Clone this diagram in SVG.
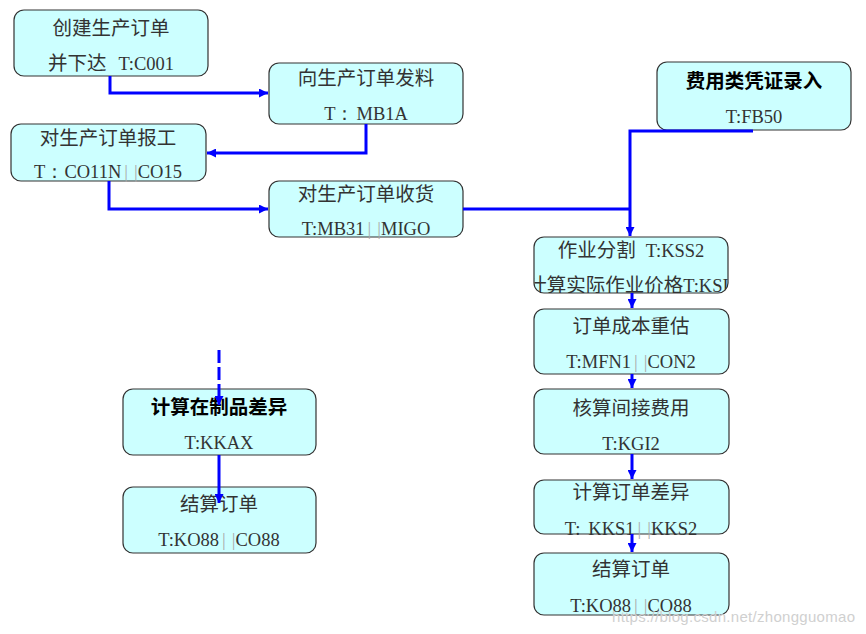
<svg xmlns="http://www.w3.org/2000/svg" width="866" height="634" viewBox="0 0 866 634">
<style>
.box{fill:#ccffff;stroke:#333;stroke-width:1.2}
.t{font-family:"Noto Sans CJK SC","Liberation Serif",sans-serif;font-size:19.5px;fill:#333;text-anchor:middle}
.b{font-weight:bold;fill:#000}
.m{font-family:"Liberation Serif",serif;font-size:18.5px}
.g{fill:#aaa}
.c{fill:none;stroke:#0000ff;stroke-width:3}
.wm{font-family:"Liberation Sans",sans-serif;font-size:15px;fill:#d0d0d0}
</style>
<defs>
<marker id="ar" viewBox="0 0 10 10" refX="10" refY="5" markerWidth="10" markerHeight="9" markerUnits="userSpaceOnUse" orient="auto">
<path d="M0,0 L10,5 L0,10 z" fill="#0000ff"/>
</marker>
<clipPath id="clip6"><rect x="534" y="237" width="194" height="56" rx="10"/></clipPath>
</defs>
<g id="n1"><rect class="box" x="14" y="10" width="194" height="66" rx="10"/>
<text class="t" x="111" y="35">创建生产订单</text>
<text class="t" x="111" y="70">并下达<tspan class="m" dx="12">T:C001</tspan></text></g>
<g id="n2"><rect class="box" x="269" y="63" width="194" height="61" rx="10"/>
<text class="t" x="366" y="85">向生产订单发料</text>
<text class="t" x="366" y="120"><tspan class="m">T：</tspan><tspan class="m" dx="2">MB1A</tspan></text></g>
<g id="n3"><rect class="box" x="11" y="124" width="195" height="57" rx="10"/>
<text class="t" x="108" y="145">对生产订单报工</text>
<text class="t" x="108" y="178"><tspan class="m">T：</tspan><tspan class="m">CO11N</tspan><tspan class="m g" dx="3">|</tspan><tspan class="m g" dx="6">|</tspan><tspan class="m">CO15</tspan></text></g>
<g id="n4"><rect class="box" x="269" y="181" width="194" height="56" rx="10"/>
<text class="t" x="366" y="201">对生产订单收货</text>
<text class="t" x="366" y="235"><tspan class="m">T:MB31</tspan><tspan class="m g" dx="3">|</tspan><tspan class="m g" dx="6">|</tspan><tspan class="m">MIGO</tspan></text></g>
<g id="n5"><rect class="box" x="657" y="62" width="194" height="68" rx="10"/>
<text class="t b" x="754" y="88">费用类凭证录入</text>
<text class="t" x="754" y="123"><tspan class="m">T:FB50</tspan></text></g>
<g id="n6"><rect class="box" x="534" y="237" width="194" height="56" rx="10"/>
<text class="t" x="631" y="257">作业分割<tspan class="m" dx="10">T:KSS2</tspan></text>
<g clip-path="url(#clip6)"><text class="t" x="631" y="292">计算实际作业价格<tspan class="m">T:KSII</tspan></text></g></g>
<g id="n7"><rect class="box" x="534" y="309" width="195" height="65" rx="10"/>
<text class="t" x="631" y="333">订单成本重估</text>
<text class="t" x="631" y="368"><tspan class="m">T:MFN1</tspan><tspan class="m g" dx="3">|</tspan><tspan class="m g" dx="6">|</tspan><tspan class="m">CON2</tspan></text></g>
<g id="n8"><rect class="box" x="534" y="389" width="195" height="65" rx="10"/>
<text class="t" x="631" y="415">核算间接费用</text>
<text class="t" x="631" y="450"><tspan class="m">T:KGI2</tspan></text></g>
<g id="n9"><rect class="box" x="534" y="480" width="195" height="54" rx="10"/>
<text class="t" x="631" y="499">计算订单差异</text>
<text class="t" x="631" y="535"><tspan class="m">T:</tspan><tspan class="m" dx="8">KKS1</tspan><tspan class="m g" dx="3">|</tspan><tspan class="m g" dx="6">|</tspan><tspan class="m">KKS2</tspan></text></g>
<g id="n10"><rect class="box" x="534" y="553" width="195" height="62" rx="10"/>
<text class="t" x="631" y="576">结算订单</text>
<text class="t" x="631" y="612"><tspan class="m">T:KO88</tspan><tspan class="m g" dx="3">|</tspan><tspan class="m g" dx="6">|</tspan><tspan class="m">CO88</tspan></text></g>
<g id="n11"><rect class="box" x="123" y="389" width="193" height="66" rx="10"/>
<text class="t b" x="219" y="414">计算在制品差异</text>
<text class="t" x="219" y="449"><tspan class="m">T:KKAX</tspan></text></g>
<g id="n12"><rect class="box" x="123" y="487" width="193" height="66" rx="10"/>
<text class="t" x="219" y="511">结算订单</text>
<text class="t" x="219" y="546"><tspan class="m">T:KO88</tspan><tspan class="m g" dx="3">|</tspan><tspan class="m g" dx="6">|</tspan><tspan class="m">CO88</tspan></text></g>
<g id="connectors">
<path class="c" d="M110,76 V93 H268" marker-end="url(#ar)"/>
<path class="c" d="M366,124 V153 H207" marker-end="url(#ar)"/>
<path class="c" d="M109,181 V209 H268" marker-end="url(#ar)"/>
<path class="c" d="M463,209 H630"/>
<path class="c" d="M753,131 H630 V236" marker-end="url(#ar)"/>
<path class="c" d="M632,293 V308" marker-end="url(#ar)"/>
<path class="c" d="M632,374 V388" marker-end="url(#ar)"/>
<path class="c" d="M632,454 V479" marker-end="url(#ar)"/>
<path class="c" d="M632,534 V552" marker-end="url(#ar)"/>
<path class="c" d="M219,350 V405" stroke-dasharray="13 4" marker-end="url(#ar)"/>
<path class="c" d="M219,455 V503" marker-end="url(#ar)"/>
</g>
<text class="wm" x="612" y="622" textLength="243">https://blog.csdn.net/zhongguomao</text>
</svg>
